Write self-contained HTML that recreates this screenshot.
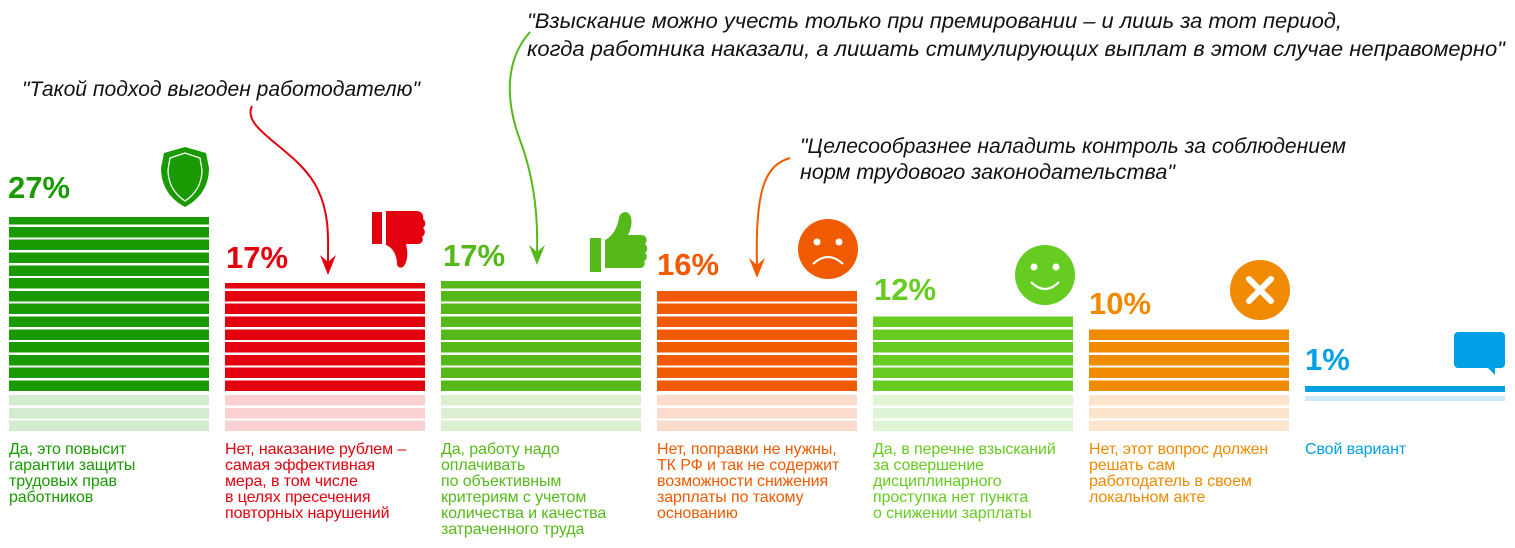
<!DOCTYPE html>
<html><head><meta charset="utf-8"><style>
body{margin:0;width:1515px;height:548px;background:#fff;position:relative;overflow:hidden;font-family:"Liberation Sans",sans-serif}
.d{position:absolute;width:200px}
.p{position:absolute;font-weight:bold;font-size:31px;letter-spacing:0px}
.l{position:absolute;font-size:16px;line-height:16px;top:442px;letter-spacing:-0.1px}
</style></head><body>
<!-- dark bars -->
<div class="d" style="left:9px;top:217px;height:174px;background:repeating-linear-gradient(to top,#189a00 0 10.5px,#fff 10.5px 12.8px)"></div>
<div class="d" style="left:225px;top:283px;height:108px;background:repeating-linear-gradient(to top,#e3000f 0 10.5px,#fff 10.5px 12.8px)"></div>
<div class="d" style="left:441px;top:281px;height:110px;background:repeating-linear-gradient(to top,#55b91a 0 10.5px,#fff 10.5px 12.8px)"></div>
<div class="d" style="left:657px;top:290px;height:101px;background:repeating-linear-gradient(to top,#f05a00 0 10.5px,#fff 10.5px 12.8px)"></div>
<div class="d" style="left:873px;top:315px;height:76px;background:repeating-linear-gradient(to top,#66cc22 0 10.5px,#fff 10.5px 12.8px)"></div>
<div class="d" style="left:1089px;top:329px;height:62px;background:repeating-linear-gradient(to top,#f08a00 0 10.5px,#fff 10.5px 12.8px)"></div>
<div class="d" style="left:1305px;top:386px;height:6px;background:#00a0e6"></div>
<!-- light bars -->
<div class="d" style="left:9px;top:395px;height:36px;background:repeating-linear-gradient(to bottom,#d3ebcf 0 10.5px,#fff 10.5px 12.8px)"></div>
<div class="d" style="left:225px;top:395px;height:36px;background:repeating-linear-gradient(to bottom,#fbd0d0 0 10.5px,#fff 10.5px 12.8px)"></div>
<div class="d" style="left:441px;top:395px;height:36px;background:repeating-linear-gradient(to bottom,#dcefd0 0 10.5px,#fff 10.5px 12.8px)"></div>
<div class="d" style="left:657px;top:395px;height:36px;background:repeating-linear-gradient(to bottom,#fbdccc 0 10.5px,#fff 10.5px 12.8px)"></div>
<div class="d" style="left:873px;top:395px;height:36px;background:repeating-linear-gradient(to bottom,#e0f4d6 0 10.5px,#fff 10.5px 12.8px)"></div>
<div class="d" style="left:1089px;top:395px;height:36px;background:repeating-linear-gradient(to bottom,#fce5cc 0 10.5px,#fff 10.5px 12.8px)"></div>
<div class="d" style="left:1305px;top:396px;height:5px;background:#cce9f8"></div>
<!-- percents -->
<div class="p" style="left:8px;top:170px;color:#189a00">27%</div>
<div class="p" style="left:226px;top:240px;color:#e3000f">17%</div>
<div class="p" style="left:443px;top:238px;color:#55b91a">17%</div>
<div class="p" style="left:657px;top:247px;color:#f05a00">16%</div>
<div class="p" style="left:874px;top:272px;color:#66cc22">12%</div>
<div class="p" style="left:1089px;top:286px;color:#f08a00">10%</div>
<div class="p" style="left:1305px;top:342px;color:#00a0e6">1%</div>
<!-- labels -->
<div class="l" style="left:9px;color:#189a00">Да, это повысит<br>гарантии защиты<br>трудовых прав<br>работников</div>
<div class="l" style="left:225px;color:#e3000f">Нет, наказание рублем –<br>самая эффективная<br>мера, в том числе<br>в целях пресечения<br>повторных нарушений</div>
<div class="l" style="left:441px;color:#55b91a">Да, работу надо<br>оплачивать<br>по объективным<br>критериям с учетом<br>количества и качества<br>затраченного труда</div>
<div class="l" style="left:657px;color:#f05a00">Нет, поправки не нужны,<br>ТК РФ и так не содержит<br>возможности снижения<br>зарплаты по такому<br>основанию</div>
<div class="l" style="left:873px;color:#66cc22">Да, в перечне взысканий<br>за совершение<br>дисциплинарного<br>проступка нет пункта<br>о снижении зарплаты</div>
<div class="l" style="left:1089px;color:#f08a00">Нет, этот вопрос должен<br>решать сам<br>работодатель в своем<br>локальном акте</div>
<div class="l" style="left:1305px;color:#00a0e6">Свой вариант</div>
<svg width="1515" height="548" style="position:absolute;left:0;top:0" font-family="Liberation Sans, sans-serif" font-style="italic" font-size="21" fill="#111">
<text x="22" y="96" textLength="398" lengthAdjust="spacingAndGlyphs">"Такой подход выгоден работодателю"</text>
<text x="527" y="28" textLength="815" lengthAdjust="spacingAndGlyphs">"Взыскание можно учесть только при премировании – и лишь за тот период,</text>
<text x="527" y="56" textLength="978" lengthAdjust="spacingAndGlyphs">когда работника наказали, а лишать стимулирующих выплат в этом случае неправомерно"</text>
<text x="800" y="153" textLength="546" lengthAdjust="spacingAndGlyphs">"Целесообразнее наладить контроль за соблюдением</text>
<text x="800" y="179" textLength="375" lengthAdjust="spacingAndGlyphs">норм трудового законодательства"</text>
<g fill="none" stroke-width="2">
<path d="M252 106 C240 130,300 150,318 190 C330 215,328 240,328 262" stroke="#e3000f"/>
<path d="M530 32 C505 60,505 100,520 140 C535 180,538 220,537 252" stroke="#55b91a"/>
<path d="M790 158 C765 165,755 190,757 265" stroke="#f05a00"/>
</g>
<path d="M320 255 L328 275 L336 255 L328 262Z" fill="#e3000f"/>
<path d="M529 245 L537 265 L545 245 L537 252Z" fill="#55b91a"/>
<path d="M749 258 L757 278 L765 258 L757 265Z" fill="#f05a00"/>
<g font-style="normal">
<path d="M185 147 L164 153 L161 168 C161 188,172 200,185 207 C198 200,209 188,209 168 L206 153Z" fill="#189a00"/>
<path d="M185 153 L170 158 L168 170 C168 185,176 195,185 201 C194 195,202 185,202 170 L200 158Z" fill="none" stroke="#fff" stroke-width="1.3"/>
<path d="M372 212 h10 v32 h-10z M386 211 h30 c6 0,8 4,7 8 c3 2,3 7,0 9 c3 3,2 7,-1 9 c2 3,0 7,-4 7 h-12 c2 8,2 16,-2 22 c-4 4,-8 0,-7 -4 c-1 -8,-4 -14,-11 -17z" fill="#e3000f"/>
<path d="M590 238 h11 v34 h-11z M605 240 c8 -4,12 -12,14 -22 c1 -6,8 -8,11 -3 c3 6,1 14,-2 20 h13 c6 0,7 6,4 9 c3 2,3 7,0 9 c3 2,2 7,-1 8 c2 3,0 7,-4 7 h-35z" fill="#55b91a"/>
<circle cx="828" cy="249" r="30" fill="#f05a00"/>
<circle cx="817" cy="242" r="3.5" fill="#fff"/><circle cx="839" cy="242" r="3.5" fill="#fff"/>
<path d="M813 264 Q828 250 843 264" stroke="#fff" stroke-width="2.2" fill="none"/>
<circle cx="1045" cy="275" r="30" fill="#66cc22"/>
<circle cx="1034" cy="267" r="3.5" fill="#fff"/><circle cx="1056" cy="267" r="3.5" fill="#fff"/>
<path d="M1031 282 Q1045 296 1059 282" stroke="#fff" stroke-width="2.2" fill="none"/>
<circle cx="1260" cy="290" r="30" fill="#f08a00"/>
<path d="M1249 279 L1271 301 M1271 279 L1249 301" stroke="#fff" stroke-width="6" stroke-linecap="round"/>
<path d="M1458 332 h43 a4 4 0 0 1 4 4 v28 a4 4 0 0 1 -4 4 h-6 v7 l-7 -7 h-30 a4 4 0 0 1 -4 -4 v-28 a4 4 0 0 1 4 -4z" fill="#00a0e6"/>
</g>
</svg>
</body></html>
